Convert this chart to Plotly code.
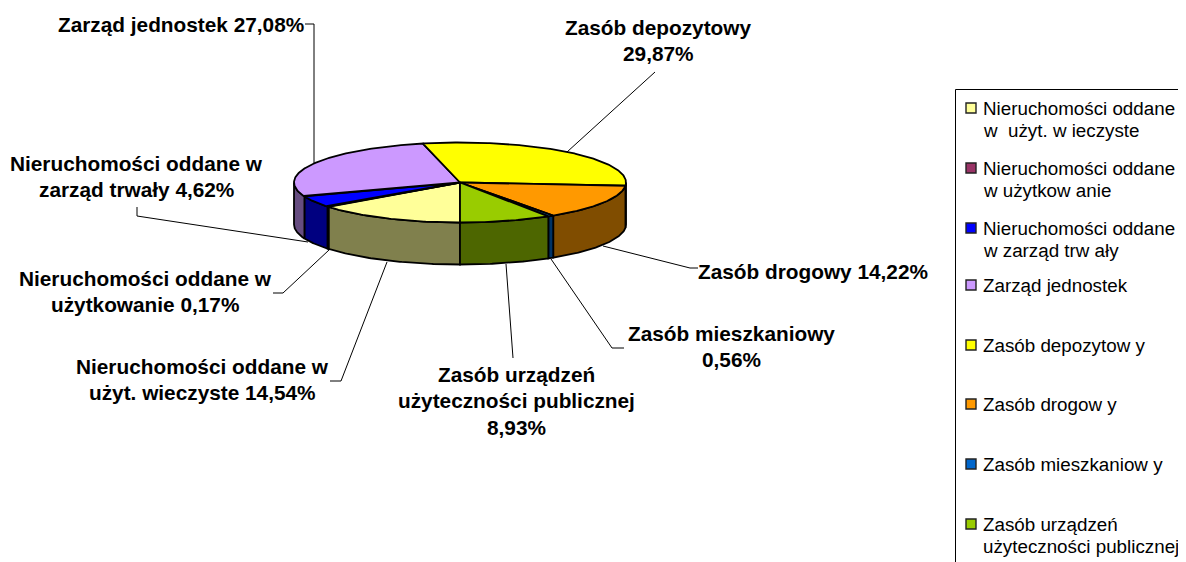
import numpy as np
import plotly.graph_objects as go

# ---- data ----
categories = ["Nieruchomości oddane w użyt. wieczyste", "Nieruchomości oddane w użytkowanie",
              "Nieruchomości oddane w zarząd trwały", "Zarząd jednostek", "Zasób depozytowy",
              "Zasób drogowy", "Zasób mieszkaniowy", "Zasób urządzeń użyteczności publicznej"]
values = [14.54, 0.17, 4.62, 27.08, 29.87, 14.22, 0.56, 8.93]
top_colors = ["#FFFF99", "#993366", "#0000FF", "#CC99FF", "#FFFF00", "#FF9900", "#0066CC", "#99CC00"]
wall_colors = ["#80804D", "#4D1A33", "#000080", "#664D80", "#808000", "#804D00", "#003366", "#4D6600"]
legend_lines = [["Nieruchomości oddane", "w\u00a0\u00a0użyt. w ieczyste"],
                ["Nieruchomości oddane", "w\u00a0użytkow anie"],
                ["Nieruchomości oddane", "w\u00a0zarząd trw ały"],
                ["Zarząd jednostek"], ["Zasób depozytow y"], ["Zasób drogow y"],
                ["Zasób mieszkaniow y"], ["Zasób urządzeń", "użyteczności publicznej"]]
label_lines = [["Nieruchomości oddane w", "użyt. wieczyste 14,54%"],
               ["Nieruchomości oddane w", "użytkowanie 0,17%"],
               ["Nieruchomości oddane w", "zarząd trwały 4,62%"],
               ["Zarząd jednostek 27,08%"],
               ["Zasób depozytowy", "29,87%"],
               ["Zasób drogowy 14,22%"],
               ["Zasób mieszkaniowy", "0,56%"],
               ["Zasób urządzeń", "użyteczności publicznej", "8,93%"]]

# ---- layout of the drawing (pixels of the page; the page body has an 8px margin) ----
W, H, PAGE_MARGIN = 1186, 562, 8
CX, CY, RX, RY, DEPTH = 460, 182.5, 166, 40, 42
label_first_y = [366, 278, 163, 24, 27, 271, 333, 374]
label_cx = [202, 145, 136, 181, 658, 813, 731, 516]
LABEL_PITCH = 26.5
leaders = [
    [(387, 262), (341, 381), (330, 381)],
    [(329, 250), (283, 293), (273, 293)],
    [(308, 242), (137, 216), (137, 207)],
    [(305, 24), (314, 24), (314, 163)],
    [(567, 152), (655, 72)],
    [(603, 246), (690, 268), (698, 268)],
    [(551, 259), (612, 348), (624, 348)],
    [(506, 264), (513, 352), (513, 358)],
]
legend_y = [108, 168, 228, 285, 345, 404, 464, 524]
LEGEND_PITCH = 22


def rim(a0, a1, dy=0.0):
    """Points on the ellipse; angle clockwise from the front (degrees)."""
    n = max(2, int(abs(a1 - a0) * 1.5) + 2)
    t = np.radians(np.linspace(a0, a1, n))
    return CX - RX * np.sin(t), CY + RY * np.cos(t) + dy


fig = go.Figure()
edges = np.concatenate([[0], np.cumsum(values)]) / sum(values) * 360

# front walls: only the parts of the rim on the near side (angles 270..360 and 0..90)
for name, a0, a1, col in zip(categories, edges[:-1], edges[1:], wall_colors):
    for lo, hi in ((0, 90), (270, 360)):
        s, e = max(a0, lo), min(a1, hi)
        if e <= s:
            continue
        x0, y0 = rim(s, e)
        x1, y1 = rim(e, s, DEPTH)
        fig.add_trace(go.Scatter(x=np.r_[x0, x1, x0[0]], y=np.r_[y0, y1, y0[0]], mode="lines",
                                 fill="toself", fillcolor=col, name=name, hoverinfo="name",
                                 line=dict(color="black", width=1.8), showlegend=False))

# top faces
for name, a0, a1, col in zip(categories, edges[:-1], edges[1:], top_colors):
    x, y = rim(a0, a1)
    fig.add_trace(go.Scatter(x=np.r_[CX, x, CX], y=np.r_[CY, y, CY], mode="lines",
                             fill="toself", fillcolor=col, name=name, hoverinfo="name",
                             line=dict(color="black", width=1.8), showlegend=False))

# leader lines
for pts in leaders:
    fig.add_trace(go.Scatter(x=[p[0] for p in pts], y=[p[1] for p in pts], mode="lines",
                             line=dict(color="black", width=1), hoverinfo="skip", showlegend=False))

# legend swatches
fig.add_trace(go.Scatter(x=[971] * len(legend_y), y=legend_y, mode="markers", hoverinfo="skip",
                         marker=dict(symbol="square", size=10, color=top_colors,
                                     line=dict(color="#222222", width=1.4)),
                         showlegend=False))

ann = []
for lines, first, cx in zip(label_lines, label_first_y, label_cx):
    for i, t in enumerate(lines):
        ann.append(dict(x=cx, y=first + i * LABEL_PITCH, text=t, showarrow=False,
                        xanchor="center", yanchor="middle",
                        font=dict(family="Liberation Sans", size=20.8, color="black", weight="bold")))
for lines, first in zip(legend_lines, legend_y):
    for i, t in enumerate(lines):
        ann.append(dict(x=981, y=first + i * LEGEND_PITCH, text=t, showarrow=False,
                        xanchor="left", yanchor="middle",
                        font=dict(family="Liberation Sans", size=18.8, color="black")))

fig.update_layout(
    width=W - PAGE_MARGIN, height=H - PAGE_MARGIN, margin=dict(l=0, r=0, t=0, b=0),
    paper_bgcolor="white", plot_bgcolor="white", showlegend=False,
    xaxis=dict(range=[PAGE_MARGIN, W], visible=False, fixedrange=True),
    yaxis=dict(range=[H, PAGE_MARGIN], visible=False, fixedrange=True),
    annotations=ann,
    shapes=[dict(type="rect", x0=955.5, x1=W + 20, y0=89.5, y1=H + 20,
                 line=dict(color="black", width=1), fillcolor="rgba(0,0,0,0)", layer="below")],
)
fig.write_html("out.html", config={"displayModeBar": False})
